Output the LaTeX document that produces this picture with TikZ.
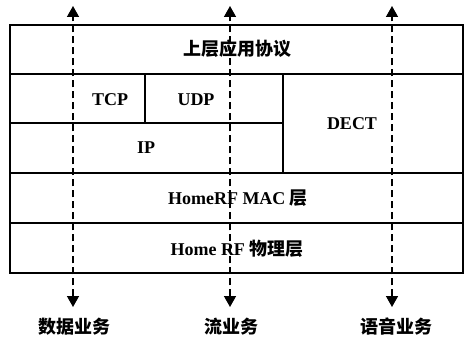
\documentclass[tikz,border=0pt]{standalone}
\usepackage{fontspec}
\setmainfont{Liberation Serif}
\newfontfamily\cjk{Noto Sans CJK SC}
\usetikzlibrary{arrows.meta}
\tikzset{
  layer/.style={font=\fontsize{18}{20}\selectfont\bfseries},
  service/.style={font=\cjk\fontsize{18}{20}\selectfont\bfseries},
  flow/.style={line width=1.5pt, dash pattern=on 7pt off 4pt,
    {Triangle[width=12pt,length=11pt]}-{Triangle[width=12pt,length=11pt]}}
}
\begin{document}
\begin{tikzpicture}[x=1pt, y=-1pt, line width=1.6pt]
\useasboundingbox (0,0) rectangle (468,342);
%
\draw (10,25) rectangle (463,273);
\draw (10,74) -- (463,74) (10,173) -- (463,173) (10,223) -- (463,223);
\draw (10,123) -- (283,123) (145,74) -- (145,123) (283,74) -- (283,173);
%
\node[layer] (upper) at (237,49) {\cjk 上层应用协议};
\node[layer] (tcp) at (110,100) {TCP};
\node[layer] (udp) at (196,100) {UDP};
\node[layer] (ip) at (146,148) {IP};
\node[layer] (dect) at (352,124) {DECT};
\node[layer] (mac) at (238,198) {HomeRF MAC {\cjk 层}};
\node[layer] (phy) at (237,249) {Home RF {\cjk 物理层}};
%
\foreach \x/\n in {73/data, 230/stream, 392/voice} {
  \coordinate (\n-top) at (\x,6);
  \coordinate (\n-bot) at (\x,307);
}
\draw[flow] (data-bot) -- (data-top);
\draw[flow] (stream-bot) -- (stream-top);
\draw[flow] (voice-bot) -- (voice-top);
%
\node[service] (datalabel) at (74,327) {数据业务};
\node[service] (streamlabel) at (231,327) {流业务};
\node[service] (voicelabel) at (396,327) {语音业务};
%
\end{tikzpicture}
\end{document}
